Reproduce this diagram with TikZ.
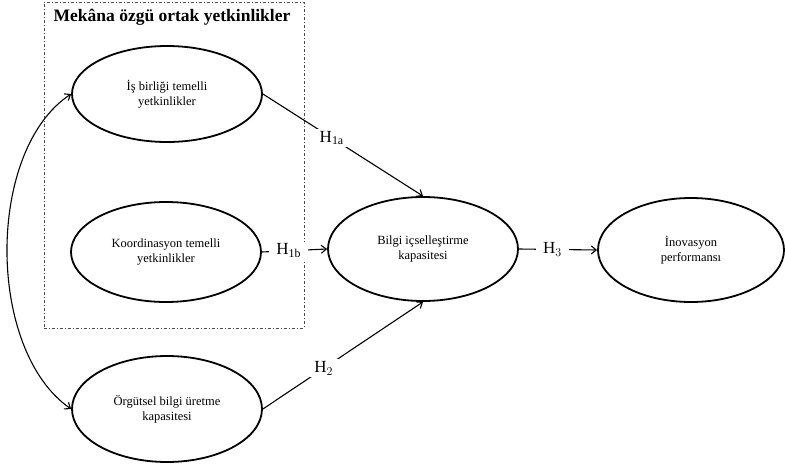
\documentclass[tikz,border=0pt]{standalone}
\usepackage{fontspec}
\setmainfont{Liberation Serif}
\usetikzlibrary{shapes.geometric,arrows.meta}
\begin{document}
\begin{tikzpicture}[x=1pt,y=-1pt,
  constr/.style={ellipse, draw, line width=1.8pt, minimum width=190pt, minimum height=100pt,
    align=center, font=\fontsize{12.5}{15}\selectfont, inner sep=0pt},
  link/.style={line width=1.1pt, -{Straight Barb[length=5pt,width=8pt]}},
  hlab/.style={fill=white, font=\fontsize{17}{20}\selectfont, inner xsep=7pt, inner ysep=2pt},
  grp/.style={draw=black!70, line width=0.9pt, dash pattern=on 3pt off 2pt on 1pt off 2pt}]
\useasboundingbox (0,0) rectangle (785,469);
\node[grp, minimum width=260pt, minimum height=326pt, anchor=north west, inner sep=0pt] (box) at (43.5,2) {};
\node[font=\fontsize{17.5}{20}\selectfont\bfseries] (title) at (172,17) {Mekâna özgü ortak yetkinlikler};
\node[constr, minimum height=96pt] (e1) at (167,94) {İş birliği temelli\\yetkinlikler};
\node[constr] (e2) at (166,252) {Koordinasyon temelli\\yetkinlikler};
\node[constr, minimum height=106pt] (org) at (167,409) {Örgütsel bilgi üretme\\kapasitesi};
\node[constr, minimum height=104pt] (bik) at (423,249) {Bilgi içselleştirme\\kapasitesi};
\node[constr, minimum width=186pt, minimum height=104pt] (ino) at (691,250) {İnovasyon\\performansı};
\draw[link] (e1.east) -- node[hlab, pos=0.43] {H$_{\mathrm{1a}}$} (bik.north);
\draw[link] (e2.east) -- node[hlab, pos=0.41] {H$_{\mathrm{1b}}$} (bik.west);
\draw[link] (org.east) -- node[hlab, pos=0.38] {H$_{2}$} (bik.south);
\draw[link] (bik.east) -- node[hlab, pos=0.43] {H$_{3}$} (ino.west);
\draw[line width=1.1pt, {Straight Barb[length=5pt,width=8pt]}-{Straight Barb[length=5pt,width=8pt]}]
  (e1.west) .. controls (-14,150) and (-14,350) .. (org.west);
\end{tikzpicture}
\end{document}
